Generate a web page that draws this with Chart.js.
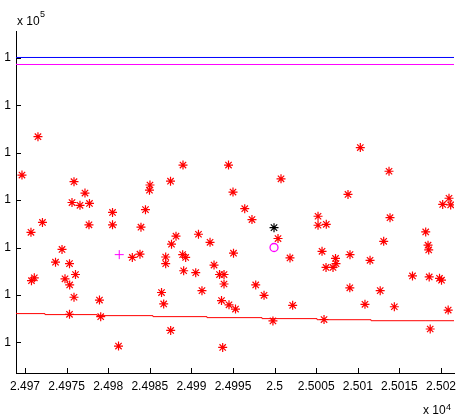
<!DOCTYPE html>
<html>
<head>
<meta charset="utf-8">
<script src="https://cdn.jsdelivr.net/npm/chart.js@4/dist/chart.umd.min.js"></script>
<style>
  html, body { margin: 0; padding: 0; background: #fff; }
</style>
</head>
<body>
<canvas id="chart" width="458" height="420"></canvas>
<script>
'use strict';

// x values (x 10^4 on the axis), y in tick steps (every tick reads "1", x 10^5)
var xTicks = [24970, 24975, 24980, 24985, 24990, 24995, 25000, 25005, 25010, 25015, 25020];
var yTicks = [0, 1, 2, 3, 4, 5, 6];
var yTickLabels = ['1', '1', '1', '1', '1', '1', '1'];

var starX = [24971.56, 24969.64, 24975.89, 24977.21, 24975.65, 24976.61, 24977.75, 24972.10, 24970.72, 24977.69,
  24980.52, 24980.52, 24974.45, 24973.67, 24975.35, 24985.02, 24984.96, 24987.49, 24988.99, 24994.46,
  24995.00, 24984.48, 24983.94, 24988.15, 24987.61, 24990.85, 24992.24, 25010.30, 25013.75, 25000.77,
  25008.82, 24996.41, 24997.28, 25005.22, 25005.22, 25006.21, 25013.87, 25020.96, 25020.20, 25021.16,
  25000.41, 25013.11, 25018.16, 25018.44, 25018.52, 25005.70, 24982.90, 24983.82, 24986.91, 24986.91,
  24988.95, 24989.31, 24995.06, 24992.72, 24989.07, 24990.52, 24993.38, 24993.92, 24993.92, 24970.78,
  24971.12, 24974.81, 24976.07, 24975.37, 24975.89, 24978.95, 24986.41, 24986.67, 24991.27, 24993.62,
  24994.52, 24995.30, 24975.35, 24979.10, 24987.51, 24981.24, 24993.76, 25001.85, 25007.32, 25007.38,
  25006.18, 25007.02, 25009.06, 25011.47, 25016.57, 25018.58, 25019.82, 25020.06, 24997.73, 24998.73,
  25009.04, 25012.69, 25002.17, 25010.86, 25014.39, 25020.86, 24999.80, 25005.94, 25018.70];
var starY = [4.34, 3.53, 3.39, 3.15, 2.95, 2.89, 2.93, 2.53, 2.32, 2.48,
  2.74, 2.48, 1.96, 1.69, 1.66, 3.32, 3.21, 3.40, 3.74, 3.74,
  3.17, 2.80, 2.43, 2.24, 2.07, 2.28, 2.11, 4.11, 3.61, 3.45,
  3.12, 2.82, 2.59, 2.66, 2.47, 2.49, 2.63, 3.04, 2.91, 2.90,
  2.19, 2.13, 2.33, 2.05, 1.95, 1.92, 1.79, 1.86, 1.80, 1.66,
  1.85, 1.79, 1.88, 1.63, 1.51, 1.47, 1.43, 1.43, 1.23, 1.30,
  1.36, 1.34, 1.43, 1.21, 0.95, 0.89, 1.05, 0.81, 1.09, 0.88,
  0.79, 0.70, 0.59, 0.54, 0.25, -0.08, -0.11, 1.78, 1.77, 1.66,
  1.58, 1.58, 1.85, 1.73, 1.40, 1.38, 1.35, 1.31, 1.21, 0.99,
  1.15, 1.09, 0.78, 0.80, 0.75, 0.68, 0.45, 0.48, 0.28];

var blackX = [24999.93];
var blackY = [2.42];
var circleX = [24999.93];
var circleY = [2.00];
var plusX = [24981.33];
var plusY = [1.85];

var xMin = 24968.92;
var xMax = 25021.56;

// step lines
var redLineX = [xMin, 24972.40, 24978.65, 24985.38, 24991.87, 24998.49, 25005.10, 25011.59, 25018.08, xMax];
var redLineY = [0.626, 0.605, 0.584, 0.562, 0.541, 0.520, 0.499, 0.476, 0.455, 0.455];
var magLineX = [xMin, 25001.49, xMax];
var magLineY = [5.885, 5.864, 5.864];
var blueLineX = [xMin, xMax];
var blueLineY = [6.012, 6.012];

var FONT = '"Liberation Sans", Arial, sans-serif';

function toPoints(xs, ys) {
  var pts = [];
  for (var i = 0; i < xs.length; i++) {
    pts.push({ x: xs[i], y: ys[i] });
  }
  return pts;
}

function xLabel(v) {
  return parseFloat((v / 10000).toFixed(4)).toString();
}

function markerSet(label, xs, ys, style, color, radius, width) {
  return {
    label: label,
    data: toPoints(xs, ys),
    showLine: false,
    pointStyle: style,
    pointRadius: radius,
    pointHoverRadius: radius,
    borderColor: color,
    backgroundColor: 'rgba(0,0,0,0)',
    pointBorderColor: color,
    pointHoverBorderColor: color,
    pointBackgroundColor: 'rgba(0,0,0,0)',
    pointHoverBackgroundColor: 'rgba(0,0,0,0)',
    pointBorderWidth: width,
    pointHoverBorderWidth: width
  };
}

// inward tick marks and the exponent notes
var extras = {
  id: 'extras',
  afterDraw: function(chart) {
    var ctx = chart.ctx;
    var a = chart.chartArea;
    var xs = chart.scales.x;
    var ys = chart.scales.y;
    ctx.save();
    ctx.strokeStyle = '#000';
    ctx.lineWidth = 1;
    ctx.beginPath();
    for (var i = 0; i < yTicks.length; i++) {
      var py = Math.round(ys.getPixelForValue(yTicks[i])) + 0.5;
      ctx.moveTo(a.left, py);
      ctx.lineTo(a.left + 5, py);
    }
    for (var j = 0; j < xTicks.length; j++) {
      var px = Math.round(xs.getPixelForValue(xTicks[j])) + 0.5;
      ctx.moveTo(px, a.bottom);
      ctx.lineTo(px, a.bottom - 5);
    }
    ctx.stroke();

    ctx.fillStyle = '#000';
    ctx.textBaseline = 'alphabetic';
    ctx.textAlign = 'left';
    ctx.font = '12px ' + FONT;
    ctx.fillText('x 10', 17, 25);
    ctx.fillText('x 10', 423, 414);
    ctx.font = '9px ' + FONT;
    ctx.fillText('5', 40, 17);
    ctx.fillText('4', 446, 410);
    ctx.restore();
  }
};

var ctx = document.getElementById('chart').getContext('2d');

var chart = new Chart(ctx, {
  type: 'scatter',
  data: {
    datasets: [
      {
        label: 'blue',
        data: toPoints(blueLineX, blueLineY),
        showLine: true,
        borderColor: '#0000ff',
        borderWidth: 1,
        pointRadius: 0,
        pointHoverRadius: 0
      },
      {
        label: 'magenta',
        data: toPoints(magLineX, magLineY),
        showLine: true,
        stepped: 'after',
        borderColor: '#ff00ff',
        borderWidth: 1,
        pointRadius: 0,
        pointHoverRadius: 0
      },
      {
        label: 'red line',
        data: toPoints(redLineX, redLineY),
        showLine: true,
        stepped: 'after',
        borderColor: '#ff0000',
        borderWidth: 1,
        pointRadius: 0,
        pointHoverRadius: 0
      },
      markerSet('stars', starX, starY, 'star', '#ff0000', 4.5, 1.2),
      markerSet('black', blackX, blackY, 'star', '#000000', 4.5, 1.2),
      markerSet('circle', circleX, circleY, 'circle', '#ff00ff', 4, 1.3),
      markerSet('plus', plusX, plusY, 'cross', '#ff00ff', 4.5, 1)
    ]
  },
  options: {
    responsive: false,
    animation: false,
    devicePixelRatio: 1,
    events: [],
    layout: { padding: { top: 31, right: 4, bottom: 0, left: 0 }, autoPadding: false },
    plugins: { legend: { display: false }, tooltip: { enabled: false } },
    scales: {
      x: {
        type: 'linear',
        position: 'bottom',
        min: xMin,
        max: xMax,
        afterBuildTicks: function(s) {
          s.ticks = xTicks.map(function(v) { return { value: v }; });
        },
        afterFit: function(s) {
          s.height = 47;
          s.paddingLeft = 0;
          s.paddingRight = 0;
        },
        grid: { display: true, drawOnChartArea: false, drawTicks: false },
        border: { display: true, color: '#000', width: 1 },
        ticks: {
          autoSkip: false,
          maxRotation: 0,
          padding: 6,
          color: '#000',
          font: { family: FONT, size: 12 },
          callback: function(v) { return xLabel(v); }
        }
      },
      y: {
        type: 'linear',
        position: 'left',
        min: -0.649,
        max: 6.571,
        afterBuildTicks: function(s) {
          s.ticks = yTicks.map(function(v) { return { value: v }; });
        },
        afterFit: function(s) {
          s.width = 16;
          s.paddingTop = 0;
          s.paddingBottom = 0;
        },
        grid: { display: true, drawOnChartArea: false, drawTicks: false },
        border: { display: true, color: '#000', width: 1 },
        ticks: {
          padding: 5,
          color: '#000',
          font: { family: FONT, size: 12 },
          callback: function(v, i) { return yTickLabels[i]; }
        }
      }
    }
  },
  plugins: [extras]
});
</script>
</body>
</html>
